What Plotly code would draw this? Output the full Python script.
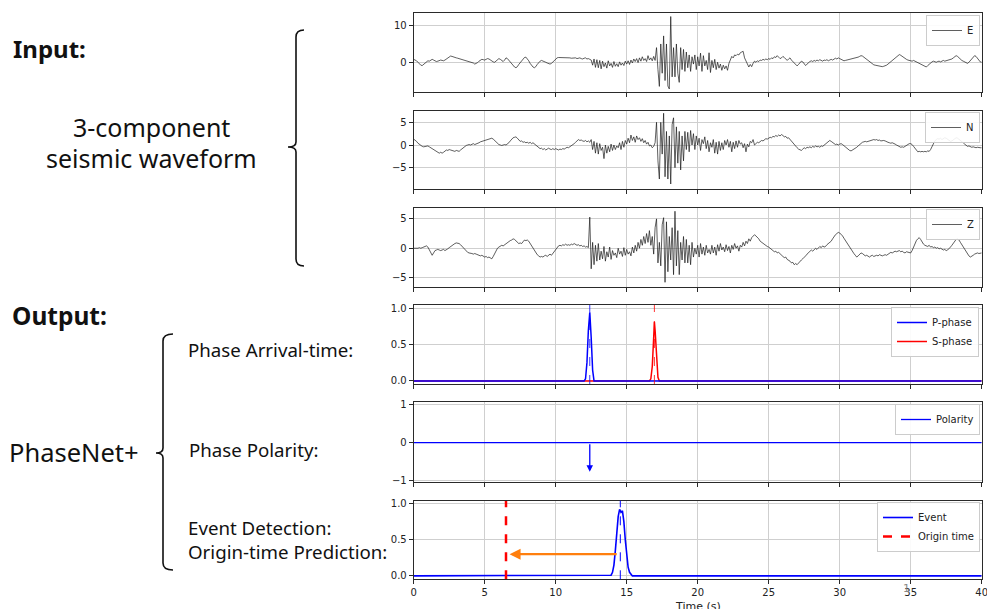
import plotly.graph_objects as go

W, H = 987, 609
DT = 0.1  # sampling interval of the digitised waveforms (s)

# ---------------- data ----------------
E_WAVE = [
 0.8,0.7,0.4,0.0,-0.5,-0.8,-0.9,-0.6,-0.2,0.2,
 0.4,0.3,0.6,0.8,0.6,0.4,0.2,0.3,0.5,0.6,
 0.5,0.4,0.6,0.9,1.2,1.5,1.7,1.6,1.4,1.3,
 1.2,1.1,1.0,0.9,0.8,0.6,0.5,0.4,0.3,0.2,
 0.1,0.0,-0.2,-0.5,-0.4,-0.1,0.3,0.6,0.8,0.7,
 0.6,0.8,1.0,0.9,0.6,0.3,0.1,0.0,0.3,0.7,
 1.0,0.8,0.4,0.2,0.6,1.2,1.0,0.5,0.0,-0.5,
 -1.0,-1.3,-1.5,-1.2,-0.6,-0.1,0.4,0.9,1.3,1.4,
 1.0,0.4,-0.3,-0.9,-1.3,-1.5,-1.2,-0.6,-0.1,0.3,
 0.5,0.4,0.2,0.0,-0.2,-0.4,-0.5,-0.3,0.1,0.5,
 0.9,1.2,1.3,1.3,1.2,1.3,1.4,1.3,1.2,1.3,
 1.2,1.1,1.2,1.3,1.2,1.0,1.1,1.2,1.0,0.9,
 1.1,1.2,0.9,1.0,0.8,0.6,-0.8,0.9,-1.4,0.7,
 -1.5,0.5,-1.8,0.3,-1.2,-0.2,-1.6,0.4,-1.0,-0.3,
 -1.4,0.2,-1.1,-0.4,-1.2,0.1,-0.8,-0.2,-0.9,0.3,
 -0.5,0.4,-0.6,0.6,-0.2,0.9,0.2,1.0,-0.1,1.2,
 0.3,1.5,0.5,1.0,0.2,1.8,0.6,1.2,0.4,1.6,
 0.5,4.0,-2.0,-6.6,5.0,-3.0,7.2,-5.0,5.0,-6.5,
 -7.3,12.5,-4.0,4.0,-4.0,5.0,-3.0,-5.5,4.0,-2.0,
 3.5,-2.5,2.8,-1.5,2.0,-2.5,1.5,-0.5,2.0,-2.0,
 1.5,-1.0,2.5,-2.5,1.8,-1.0,0.5,-2.0,2.6,-2.8,
 0.5,-1.5,0.8,-2.0,0.0,-1.6,-0.5,-2.2,-0.8,-1.8,
 -1.0,-2.2,-0.3,1.0,1.6,1.2,2.0,1.8,2.2,2.0,
 2.6,2.8,3.0,1.2,0.3,-0.5,-1.3,-0.6,-1.2,-0.3,
 0.3,0.0,0.4,0.2,0.6,0.5,0.8,0.6,0.9,0.7,
 1.0,0.8,1.2,1.0,1.5,1.3,1.8,1.4,1.0,1.2,
 1.6,1.3,0.8,0.5,0.9,1.2,0.6,0.2,-0.3,-0.8,
 -1.0,-0.6,-0.2,0.3,0.1,-0.3,-0.9,-0.5,0.0,0.2,
 0.4,0.2,0.5,0.3,0.6,0.4,0.7,0.5,0.3,0.6,
 0.5,0.7,0.4,0.6,0.8,0.6,0.9,1.1,0.9,1.2,
 1.0,0.8,0.6,0.4,0.5,0.6,0.7,0.8,0.8,0.9,
 0.9,1.0,1.2,1.4,1.6,1.8,1.7,1.4,1.1,0.8,
 0.5,0.2,-0.2,-0.5,-0.7,-0.8,-0.9,-1.0,-1.0,-1.1,
 -1.2,-1.1,-1.0,-0.8,-0.5,-0.2,0.1,0.4,0.8,1.2,
 1.5,1.8,2.1,1.9,1.6,1.2,1.0,0.8,0.6,0.5,
 0.4,0.3,0.5,0.3,0.2,0.0,-0.2,-0.5,-0.8,-1.0,
 -1.1,-1.3,-0.9,-0.5,-0.2,0.1,0.3,0.2,0.0,0.2,
 0.3,0.1,0.3,0.5,0.3,0.4,0.6,0.5,0.7,0.9,
 1.2,1.5,1.8,1.6,1.2,0.8,0.5,0.3,0.1,-0.1,
 -0.3,0.0,0.5,1.0,1.5,1.8,1.6,1.0,0.4,0.1,
 0.0,
]

N_WAVE = [
 1.3,1.1,0.8,0.4,0.1,-0.2,-0.3,-0.4,-0.3,-0.3,
 -0.2,-0.4,-0.6,-0.9,-1.1,-1.3,-1.5,-1.7,-1.8,-1.6,
 -1.8,-1.6,-1.3,-1.1,-1.2,-1.0,-1.1,-1.2,-1.3,-1.4,
 -1.2,-1.3,-1.4,-1.1,-0.8,-0.5,-0.3,-0.1,0.0,0.1,
 0.0,0.1,0.3,0.1,0.2,0.4,0.5,0.7,0.8,0.9,
 1.0,1.2,1.3,1.4,1.5,1.5,1.3,1.0,0.6,0.3,
 0.1,0.0,-0.1,0.0,0.1,0.0,0.2,0.5,0.9,1.4,
 1.6,1.7,1.8,1.5,1.0,0.8,0.9,0.6,0.7,0.5,
 0.6,0.4,0.6,0.3,0.5,0.2,0.0,-0.3,-0.6,-0.8,
 -0.7,-1.0,-0.8,-1.1,-0.9,-0.7,-0.9,-1.0,-0.8,-1.0,
 -0.8,-1.0,-1.1,-0.9,-1.0,-0.8,-0.9,-0.7,-0.5,-0.6,
 -0.4,-0.2,0.0,0.3,0.6,0.9,1.2,1.0,1.1,0.9,
 0.8,1.0,0.7,0.9,0.6,1.2,-1.0,0.8,-1.8,0.5,
 -2.0,0.3,-1.2,-0.5,-3.0,0.0,-1.8,-0.3,-1.5,0.2,
 -1.2,0.0,-1.0,-0.2,-0.6,0.5,-1.0,0.8,-0.5,1.0,
 0.2,1.5,0.5,2.2,1.0,1.8,0.6,2.0,1.2,1.6,
 0.8,1.4,0.5,1.0,0.2,0.6,-0.2,0.0,-0.6,-0.3,
 0.5,5.0,-3.5,-7.5,5.0,-2.0,7.0,-7.0,3.0,-7.5,
 2.0,-8.6,4.5,6.0,-5.0,4.0,-4.0,3.0,-5.5,2.0,
 -3.5,3.0,-1.0,2.8,-1.5,3.2,0.0,2.5,-1.0,2.0,
 0.0,1.5,-1.2,1.2,0.3,1.8,-0.8,1.0,-1.5,0.5,
 -0.5,1.2,-1.8,0.6,-2.0,0.8,-1.2,0.5,-1.0,1.0,
 0.0,1.2,-0.5,0.8,-1.5,0.6,-0.8,0.9,-0.5,1.0,
 0.2,0.5,-0.6,0.3,-1.5,0.2,-0.4,0.8,0.5,1.2,
 0.0,0.3,0.6,0.5,0.8,1.0,0.9,1.2,1.4,1.3,
 1.5,1.7,1.6,1.9,1.8,2.1,1.9,2.2,2.0,2.3,
 2.1,1.8,1.9,1.5,1.6,1.2,0.8,0.4,0.0,-0.3,
 -0.6,-0.9,-1.0,-1.2,-0.9,-0.6,-0.8,-0.5,-0.6,-0.4,
 -0.6,-0.3,-0.5,-0.2,-0.4,-0.3,-0.5,-0.2,-0.3,0.0,
 0.3,0.6,0.9,1.0,0.8,0.5,0.3,0.1,0.2,0.0,
 0.2,0.3,0.1,-0.2,-0.5,-0.8,-1.0,-1.2,-1.3,-1.1,
 -1.0,-0.8,-0.5,-0.2,0.1,0.4,0.6,0.7,0.8,0.7,
 0.8,0.9,1.0,1.1,1.2,1.1,1.2,1.0,1.1,0.9,
 1.0,1.0,0.9,0.7,0.6,0.5,0.4,0.5,0.4,0.2,
 0.0,-0.2,-0.4,-0.5,-0.4,-0.5,-0.3,-0.1,0.1,0.3,
 0.3,0.1,-0.3,-0.8,-1.2,-1.5,-1.4,-1.5,-1.4,-1.5,
 -1.4,-1.5,-1.3,-1.4,-1.0,-0.3,0.4,0.9,1.2,1.4,
 1.3,1.5,1.2,1.4,1.6,1.5,1.2,1.0,0.8,0.9,
 1.1,1.4,1.6,1.5,1.3,1.0,0.8,0.5,0.2,0.0,
 -0.3,-0.2,-0.4,-0.5,-0.4,-0.5,-0.6,-0.5,-0.6,-0.6,
 -0.6,
]

Z_WAVE = [
 0.0,0.0,-0.1,0.0,0.1,0.0,0.1,0.2,0.3,0.4,
 0.2,-0.3,-0.8,-1.2,-0.8,-0.4,-0.3,-0.2,-0.3,-0.4,
 -0.3,-0.2,-0.4,-0.3,-0.1,0.1,0.3,0.5,0.7,0.8,
 0.9,0.9,0.8,0.6,0.3,0.0,-0.3,-0.5,-0.7,-0.8,
 -0.8,-0.9,-1.0,-0.9,-1.0,-1.1,-1.2,-1.3,-1.2,-1.4,
 -1.5,-1.4,-1.6,-1.5,-1.7,-1.8,-1.4,-0.9,-0.4,0.0,
 0.2,0.3,0.5,0.4,0.6,0.8,1.0,1.1,1.3,1.4,
 1.6,1.5,1.3,1.0,0.8,0.9,0.8,1.1,1.4,1.3,
 1.4,1.2,0.8,0.4,0.0,-0.4,-0.8,-1.1,-1.3,-1.5,
 -1.4,-1.5,-1.3,-1.2,-1.4,-1.1,-1.0,-1.2,-0.9,-0.5,
 -0.2,0.2,0.4,0.5,0.4,0.6,0.5,0.7,0.5,0.6,
 0.5,0.7,0.6,0.8,0.6,0.5,0.6,0.4,0.5,0.3,
 0.4,0.2,0.3,0.1,5.3,-3.5,1.0,-2.8,0.5,-2.2,
 0.8,-2.0,-0.5,-1.8,0.3,-2.2,-0.6,-1.5,0.2,-1.9,
 -0.4,-1.2,-0.8,-1.6,0.0,-1.0,-0.5,-1.4,0.1,-1.2,
 -0.2,-1.0,-0.6,-1.3,0.2,-0.8,0.5,-0.5,1.0,0.0,
 1.5,0.5,2.0,0.8,2.5,1.0,3.0,0.5,2.0,-1.0,
 3.5,5.0,-2.5,1.0,-3.0,4.0,5.2,-5.8,4.5,-4.0,
 2.0,-2.0,3.5,-4.5,6.3,-3.0,3.0,-4.5,1.0,-2.0,
 2.0,-2.5,1.5,-2.5,0.5,-2.8,1.0,-1.5,0.0,-1.0,
 0.5,-1.5,0.8,-1.0,0.2,-1.2,0.5,-0.8,-0.2,-1.0,
 0.5,-0.8,0.2,-1.2,0.6,-0.5,0.8,-0.3,0.2,-0.6,
 0.6,-0.4,0.3,-0.8,0.5,-0.2,0.8,0.0,0.4,-0.5,
 0.5,0.2,1.0,0.4,1.2,0.8,1.6,1.2,1.8,2.1,
 2.3,2.1,1.9,1.6,1.2,1.0,0.8,0.6,0.5,0.3,
 0.2,0.0,-0.2,-0.4,-0.6,-0.5,-0.8,-0.7,-1.0,-1.2,
 -1.4,-1.6,-1.5,-1.9,-2.0,-2.2,-2.5,-2.4,-2.8,-2.6,
 -2.8,-2.5,-2.3,-2.0,-1.8,-1.6,-1.3,-1.0,-0.8,-0.5,
 -0.3,-0.5,-0.2,0.0,-0.2,0.1,0.3,0.1,0.4,0.2,
 0.3,0.6,0.8,1.0,1.2,1.6,2.0,2.3,2.5,2.7,
 2.6,2.4,2.1,1.7,1.3,1.0,0.6,0.2,-0.2,-0.6,
 -0.9,-1.2,-1.5,-1.3,-1.0,-0.8,-0.9,-1.1,-1.3,-1.2,
 -1.4,-1.5,-1.3,-1.2,-1.4,-1.3,-1.2,-1.3,-1.1,-1.2,
 -1.3,-1.2,-1.1,-1.2,-1.0,-0.8,-0.7,-0.8,-0.6,-0.5,
 -0.6,-0.5,-0.4,-0.6,-0.5,-0.7,-0.8,-0.6,-0.7,-0.8,
 -0.8,-0.4,0.2,0.8,1.3,1.6,1.8,1.5,1.0,0.7,
 0.5,0.4,0.3,0.5,0.2,0.3,0.1,0.2,0.0,0.1,
 -0.1,0.0,-0.2,-0.3,-0.2,-0.4,-0.3,-0.1,0.2,0.5,
 0.9,1.2,1.5,1.6,1.4,1.0,0.6,0.2,-0.2,-0.6,
 -1.0,-1.3,-1.5,-1.4,-1.2,-1.0,-0.9,-0.8,-0.9,-0.8,
 -0.8,
]

P_T = [0, 12.0, 12.1, 12.2, 12.3, 12.4, 12.5, 12.6, 12.7, 40]
P_V = [0, 0, 0.03, 0.25, 0.7, 0.95, 0.6, 0.15, 0.0, 0]
S_T = [0, 16.6, 16.7, 16.8, 16.9, 16.95, 17.0, 17.1, 17.2, 17.3, 40]
S_V = [0, 0, 0.03, 0.2, 0.6, 0.82, 0.7, 0.3, 0.05, 0, 0]
POL_T = [0, 40]
POL_V = [0, 0]
EV_T = [0, 13.8, 13.9, 14.0, 14.1, 14.2, 14.3, 14.4, 14.5, 14.6, 14.7, 14.8, 14.9,
        15.0, 15.1, 15.2, 15.3, 15.4, 40]
EV_V = [0, 0, 0.01, 0.05, 0.15, 0.35, 0.6, 0.82, 0.92, 0.88, 0.9, 0.75, 0.5,
        0.28, 0.12, 0.05, 0.02, 0, 0]

P_PICK = 12.4
S_PICK = 16.95
POLARITY_TIP = -0.77
EVENT_CENTER = 14.55
ORIGIN_TIME = 6.5
ARROW_LEVEL = 0.3
ARROW_FROM = 14.4
ARROW_TO = 6.75

X_TICKS = [0, 5, 10, 15, 20, 25, 30, 35, 40]

# ---------------- helpers ----------------
def fx(x):
    return x / W


def fy(y):
    return 1 - y / H


def times(values):
    return [round(i * DT, 2) for i in range(len(values))]


X_DOM = [fx(413.7), fx(981.7)]
PANELS = [  # top px, bottom px
    (12.7, 91.7), (111.0, 189.0), (208.3, 287.3),
    (305.0, 384.0), (402.3, 482.3), (500.7, 579.3),
]
Y_RANGES = [[-8.05, 13.55], [-9.7, 7.5], [-6.65, 6.8],
            [-0.042, 1.051], [-1.05, 1.07], [-0.047, 1.04]]
Y_TICKS = [([0, 10], ["0", "10"]),
           ([-5, 0, 5], ["\u22125", "0", "5"]),
           ([-5, 0, 5], ["\u22125", "0", "5"]),
           ([0, 0.5, 1.0], ["0.0", "0.5", "1.0"]),
           ([-1, 0, 1], ["\u22121", "0", "1"]),
           ([0, 0.5, 1.0], ["0.0", "0.5", "1.0"])]

TICK_FONT = dict(family="DejaVu Sans", size=10, color="#222222")
GRID = "#cfcfcf"
SPINE = "#2a2a2a"

fig = go.Figure()

# waveforms
for i, (name, wave) in enumerate([("E", E_WAVE), ("N", N_WAVE), ("Z", Z_WAVE)]):
    k = "" if i == 0 else str(i + 1)
    fig.add_trace(go.Scatter(
        x=times(wave), y=wave, mode="lines", name=name,
        line=dict(color="#1a1a1a", width=0.7),
        xaxis="x" + k, yaxis="y" + k, legend="legend" + k, showlegend=True))

# phase picks
fig.add_trace(go.Scatter(x=S_T, y=S_V, mode="lines", name="S-phase",
                         line=dict(color="#ff0000", width=1.5),
                         xaxis="x4", yaxis="y4", legend="legend4", legendrank=2))
fig.add_trace(go.Scatter(x=P_T, y=P_V, mode="lines", name="P-phase",
                         line=dict(color="#0000ff", width=1.5),
                         xaxis="x4", yaxis="y4", legend="legend4", legendrank=1))

# polarity
fig.add_trace(go.Scatter(x=POL_T, y=POL_V, mode="lines", name="Polarity",
                         line=dict(color="#0000ff", width=1.3),
                         xaxis="x5", yaxis="y5", legend="legend5"))

# event
fig.add_trace(go.Scatter(x=EV_T, y=EV_V, mode="lines", name="Event",
                         line=dict(color="#0000ff", width=1.6),
                         xaxis="x6", yaxis="y6", legend="legend6", legendrank=1))
fig.add_trace(go.Scatter(x=[ORIGIN_TIME, ORIGIN_TIME], y=Y_RANGES[5], mode="lines",
                         name="Origin time",
                         line=dict(color="#ff0000", width=2.5, dash="dash"),
                         xaxis="x6", yaxis="y6", legend="legend6", legendrank=2))

layout = dict(
    width=W, height=H, margin=dict(l=0, r=0, t=0, b=0, autoexpand=False),
    paper_bgcolor="white", plot_bgcolor="white",
    font=dict(family="DejaVu Sans", size=10, color="#222222"),
)

for i in range(6):
    k = "" if i == 0 else str(i + 1)
    top, bot = PANELS[i]
    layout["xaxis" + k] = dict(
        domain=X_DOM, range=[0, 40], anchor="y" + k, automargin=False,
        tickvals=X_TICKS, ticktext=[str(v) for v in X_TICKS],
        showticklabels=(i == 5), ticks="outside", ticklen=4, tickwidth=1,
        tickcolor=SPINE, showline=True, mirror=True, linecolor=SPINE,
        linewidth=1, showgrid=True, gridcolor=GRID, gridwidth=1,
        zeroline=False, tickfont=TICK_FONT, ticklabeloverflow="allow",
    )
    tv, tt = Y_TICKS[i]
    layout["yaxis" + k] = dict(
        domain=[fy(bot), fy(top)], range=Y_RANGES[i], anchor="x" + k,
        automargin=False,
        tickvals=tv, ticktext=tt, ticks="outside", ticklen=4, tickwidth=1,
        tickcolor=SPINE, showline=True, mirror=True, linecolor=SPINE,
        linewidth=1, showgrid=True, gridcolor=GRID, gridwidth=1,
        zeroline=False, tickfont=TICK_FONT,
    )

LEG_POS = [(980, 15), (980, 112), (980, 209), (979, 307), (980, 404), (980, 502)]
for i, (rx, ty) in enumerate(LEG_POS):
    k = "" if i == 0 else str(i + 1)
    layout["legend" + k] = dict(
        x=fx(rx), y=fy(ty), xanchor="right", yanchor="top",
        bgcolor="rgba(255,255,255,0.9)", bordercolor="#cccccc", borderwidth=1,
        font=dict(family="DejaVu Sans", size=10, color="#222222"),
        itemwidth=30, tracegroupgap=0,
    )

fig.update_layout(**layout)

# vertical markers
shapes = [
    dict(type="line", xref="x4", yref="y4 domain", x0=P_PICK, x1=P_PICK, y0=0, y1=1,
         line=dict(color="#0000ff", width=0.8, dash="dash")),
    dict(type="line", xref="x4", yref="y4 domain", x0=S_PICK, x1=S_PICK, y0=0, y1=1,
         line=dict(color="#ff0000", width=0.8, dash="dash")),
    dict(type="line", xref="x6", yref="y6 domain", x0=EVENT_CENTER, x1=EVENT_CENTER,
         y0=0, y1=1, line=dict(color="#0000ff", width=1, dash="dash")),
]


def brace_path(pts):
    out = []
    for cmd, coords in pts:
        vals = []
        for j in range(0, len(coords), 2):
            vals.append(f"{fx(coords[j]):.5f},{fy(coords[j + 1]):.5f}")
        out.append(cmd + " " + " ".join(vals))
    return " ".join(out)


brace_in = brace_path([
    ("M", [304, 30]), ("Q", [296, 30, 296, 37]), ("L", [296, 142]),
    ("Q", [296, 147, 288, 147]), ("Q", [296, 147, 296, 152]),
    ("L", [296, 259]), ("Q", [296, 266, 304, 266]),
])
brace_out = brace_path([
    ("M", [173, 334]), ("Q", [163, 334, 163, 341]), ("L", [163, 448]),
    ("Q", [163, 453, 156, 453]), ("Q", [163, 453, 163, 458]),
    ("L", [163, 563]), ("Q", [163, 570, 173, 570]),
])
for p in (brace_in, brace_out):
    shapes.append(dict(type="path", xref="paper", yref="paper", path=p,
                       line=dict(color="#111111", width=1.6)))
fig.update_layout(shapes=shapes)

TXT = "Noto Sans"


def label(x, y, text, size, anchor="left", family=TXT, color="#111111", yanchor="middle"):
    return dict(x=fx(x), y=fy(y), xref="paper", yref="paper", text=text,
                xanchor=anchor, yanchor=yanchor, showarrow=False,
                font=dict(family=family, size=size, color=color))


ann = [
    label(11, 48, "<b>Input:</b>", 24),
    label(151, 127, "3-component", 25, anchor="center"),
    label(151, 158, "seismic waveform", 25, anchor="center"),
    label(10, 315, "<b>Output:</b>", 24.5),
    label(7, 452, "PhaseNet+", 25.5),
    label(186, 349, "Phase Arrival-time:", 18.7),
    label(187, 449, "Phase Polarity:", 18.7),
    label(186, 527, "Event Detection:", 18.7),
    label(186, 551, "Origin-time Prediction:", 18.7),
    label(697.7, 598, "Time (s)", 11, anchor="center", family="DejaVu Sans",
          color="#222222", yanchor="top"),
    label(906, 588, "1", 11, anchor="center", family="DejaVu Sans", color="#888888"),
    # polarity arrow
    dict(x=P_PICK, y=POLARITY_TIP, ax=P_PICK, ay=0, xref="x5", yref="y5",
         axref="x5", ayref="y5", text="", showarrow=True, arrowhead=2,
         arrowsize=1, arrowwidth=1.3, arrowcolor="#0000ff"),
    # origin-time arrow
    dict(x=ARROW_TO, y=ARROW_LEVEL, ax=ARROW_FROM, ay=ARROW_LEVEL, xref="x6", yref="y6",
         axref="x6", ayref="y6", text="", showarrow=True, arrowhead=2,
         arrowsize=1, arrowwidth=2.2, arrowcolor="#ff7f0e"),
]
fig.update_layout(annotations=ann)

fig.write_html("out.html")
